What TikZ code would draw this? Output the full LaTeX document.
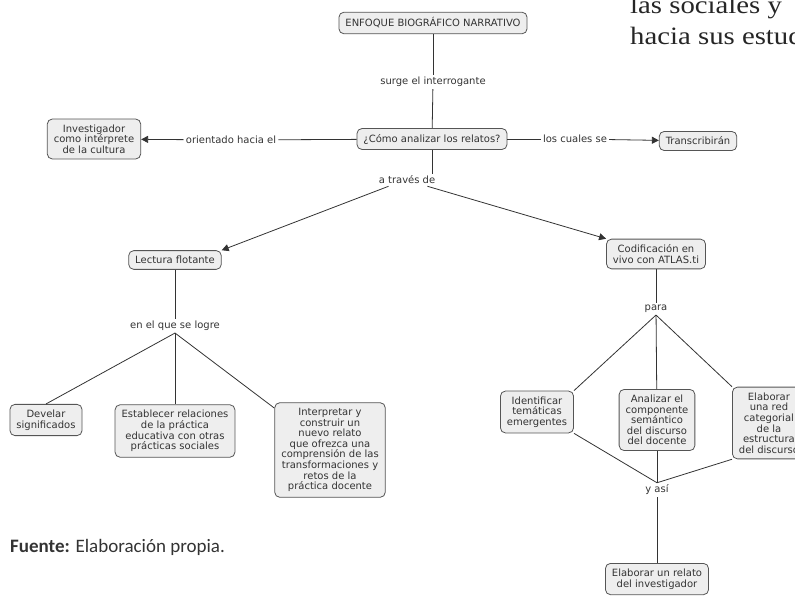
\documentclass[tikz,border=0pt]{standalone}
\usepackage{fontspec}
\setmainfont{Liberation Serif}
\newfontfamily\boxfont{DejaVu Sans}
\newfontfamily\capfont{Carlito}
\usetikzlibrary{arrows.meta}
\definecolor{boxfill}{HTML}{EEEEEE}
\definecolor{boxline}{HTML}{555555}
\definecolor{conline}{HTML}{333333}
\tikzset{
  cbox/.style={draw=boxline, fill=boxfill, rounded corners=5pt, align=center,
    font={\boxfont\fontsize{10}{10.6}\selectfont}, text=black!80,
    inner xsep=6.5pt, inner ysep=5.5pt, line width=0.8pt},
  lbl/.style={font={\boxfont\fontsize{10}{10.6}\selectfont}, text=black!80, inner sep=2pt},
  con/.style={draw=conline, line width=0.8pt},
  arr/.style={con, -{Triangle[length=7pt,width=7pt]}},
}
\begin{document}
\begin{tikzpicture}[x=1pt,y=-1pt]
\useasboundingbox (0,0) rectangle (795,596);
\clip (0,0) rectangle (795,596);
% nodes
\node[cbox] (enf) at (433,23) {ENFOQUE BIOGRÁFICO NARRATIVO};
\node[lbl] (surge) at (433,82) {surge el interrogante};
\node[cbox] (como) at (432,139) {¿Cómo analizar los relatos?};
\node[lbl] (orient) at (231,140) {orientado hacia el};
\node[cbox] (inv) at (94,139) {Investigador\\como intérprete\\de la cultura};
\node[lbl] (cuales) at (575,139) {los cuales se};
\node[cbox] (trans) at (698,141) {Transcribirán};
\node[lbl] (atraves) at (407,180) {a través de};
\node[cbox] (lect) at (175,260) {Lectura flotante};
\node[cbox] (cod) at (656,254) {Codificación en\\vivo con ATLAS.ti};
\node[lbl] (enel) at (175,326) {en el que se logre};
\node[cbox] (dev) at (46,420) {Develar\\significados};
\node[cbox] (est) at (175,431) {Establecer relaciones\\de la práctica\\educativa con otras\\prácticas sociales};
\node[cbox] (int) at (330,450) {Interpretar y\\construir un\\nuevo relato\\que ofrezca una\\comprensión de las\\transformaciones y\\retos de la\\práctica docente};
\node[lbl] (para) at (656,309) {para};
\node[cbox] (ident) at (537,412) {Identificar\\temáticas\\emergentes};
\node[cbox] (anal) at (657,420) {Analizar el\\componente\\semántico\\del discurso\\del docente};
\node[cbox, anchor=west] (elab) at (732,423) {Elaborar\\una red\\categorial\\de la\\estructura\\del discurso};
\node[lbl] (yasi) at (657,490) {y así};
\node[cbox, anchor=north] (rel) at (657,563) {Elaborar un relato\\del investigador};
\node[anchor=base west, font={\capfont\fontsize{19}{22}\selectfont}, text=black!80, inner sep=0pt] (fuente) at (10,552) {\textbf{Fuente:} Elaboración propia.};
\node[anchor=base west, font={\fontsize{25}{30}\selectfont}, text=black!85, inner sep=0pt, xscale=1.15] (top1) at (630,14) {las sociales y};
\node[anchor=base west, font={\fontsize{25}{30}\selectfont}, text=black!85, inner sep=0pt, xscale=1.15] (top2) at (630,45) {hacia sus estud};
% connectors
\draw[con] (enf) -- (surge);
\draw[con] (surge) -- (como);
\draw[con] (como) -- (orient);
\draw[arr] (orient) -- (inv);
\draw[con] (como) -- (cuales);
\draw[arr] (cuales) -- (trans);
\draw[con] (como.south) -- (como.south |- atraves.north);
\draw[arr] (atraves.south west) ++(12,0) coordinate (a1) -- (lect.north east);
\draw[arr] (atraves.south east) ++(-10,0) coordinate (a2) -- (cod.north west);
\draw[con] (lect) -- (enel);
\draw[con] (enel.south) -- (dev.north);
\draw[con] (enel) -- (est);
\draw[con] (enel.south) -- (int);
\draw[con] (cod) -- (para);
\draw[con] (para.south) -- (ident.north east);
\draw[con] (para) -- (anal);
\draw[con] (para.south) -- (elab.north west);
\draw[con] (ident.south east) -- (yasi.north);
\draw[con] (anal) -- (yasi);
\draw[con] (elab.south west) -- (yasi.north);
\draw[con] (yasi) -- (rel);
\end{tikzpicture}
\end{document}
